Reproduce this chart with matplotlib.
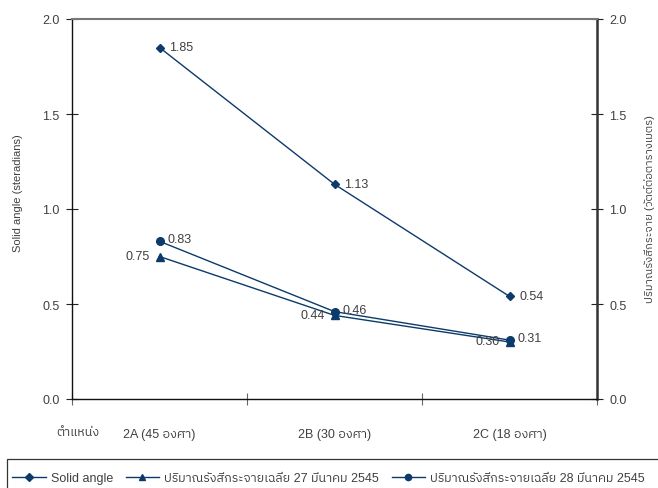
import matplotlib
matplotlib.use("Agg")
import matplotlib.pyplot as plt
from matplotlib import font_manager
from matplotlib.lines import Line2D
from matplotlib.patches import Rectangle

# ---- data ----
positions = ["2A (45 องศา)", "2B (30 องศา)", "2C (18 องศา)"]
solid_angle = [1.85, 1.13, 0.54]
diffuse_27 = [0.75, 0.44, 0.30]
diffuse_28 = [0.83, 0.46, 0.31]
series_names = ["Solid angle",
                "ปริมาณรังสีกระจายเฉลี่ย 27 มีนาคม 2545",
                "ปริมาณรังสีกระจายเฉลี่ย 28 มีนาคม 2545"]
y_ticks = [0.0, 0.5, 1.0, 1.5, 2.0]


def find_thai_family():
    """Return the name of an installed font that has Thai glyphs, if any."""
    try:
        from fontTools.ttLib import TTFont
    except Exception:
        return None
    preferred = []
    others = []
    seen = set()
    for fe in font_manager.fontManager.ttflist:
        if fe.name in seen:
            continue
        try:
            f = TTFont(fe.fname, fontNumber=0, lazy=True)
            cmap = f.getBestCmap() or {}
        except Exception:
            continue
        if 0x0E01 in cmap and 0x0E33 in cmap:
            seen.add(fe.name)
            if "Thai" in fe.name and "Looped" not in fe.name:
                preferred.append(fe.name)
            else:
                others.append(fe.name)
    cands = preferred + others
    return cands[0] if cands else None


thai = find_thai_family()
families = ["Liberation Sans"]
if thai:
    families.append(thai)
families.append("DejaVu Sans")
plt.rcParams["font.family"] = families

NAVY = "#0c3a6a"
TXT = "#404040"
FS = 9

W, H = 658, 489
fig = plt.figure(figsize=(W / 100, H / 100), dpi=100)
ax = fig.add_axes([72 / W, 1 - 400 / H, (597 - 72) / W, (400 - 20) / H])

xs = [0.5, 1.5, 2.5]
ax.plot(xs, solid_angle, color=NAVY, lw=1.0, marker="D", ms=4.5, mfc=NAVY, mec=NAVY, zorder=3)
ax.plot(xs, diffuse_27, color=NAVY, lw=1.0, marker="^", ms=5.5, mfc=NAVY, mec=NAVY, zorder=3)
ax.plot(xs, diffuse_28, color=NAVY, lw=1.0, marker="o", ms=5.5, mfc=NAVY, mec=NAVY, zorder=3)

# value labels
for x, v in zip(xs, solid_angle):
    ax.annotate(f"{v:.2f}", (x, v), xytext=(7, 0.5), textcoords="offset points",
                ha="left", va="center", fontsize=FS, color=TXT)
for x, v in zip(xs, diffuse_28):
    ax.annotate(f"{v:.2f}", (x, v), xytext=(6, 1.5), textcoords="offset points",
                ha="left", va="center", fontsize=FS, color=TXT)
for x, v in zip(xs, diffuse_27):
    ax.annotate(f"{v:.2f}", (x, v), xytext=(-7, 0.5), textcoords="offset points",
                ha="right", va="center", fontsize=FS, color=TXT)

ax.set_xlim(0, 3)
ax.set_ylim(0, 2.0)
ax.set_yticks(y_ticks)
ax.set_yticklabels([f"{t:.1f}" for t in y_ticks])
ax.set_xticks([0, 1, 2, 3])
ax.set_xticklabels([])
ax.set_xticks(xs, minor=True)
ax.set_xticklabels(positions, minor=True)

ax.tick_params(axis="y", which="major", direction="inout", length=8, width=0.8,
               color="#222222", labelsize=FS, labelcolor=TXT, pad=5,
               right=True, labelright=True)
ax.tick_params(axis="x", which="major", direction="inout", length=9, width=0.8,
               color="#666666")
ax.tick_params(axis="x", which="minor", length=0, labelsize=FS, labelcolor=TXT, pad=21)

ax.spines["left"].set_color("#111111")
ax.spines["left"].set_linewidth(1.0)
ax.spines["bottom"].set_color("#111111")
ax.spines["bottom"].set_linewidth(1.0)
ax.spines["right"].set_color("#333333")
ax.spines["right"].set_linewidth(1.8)
ax.spines["top"].set_color("#777777")
ax.spines["top"].set_linewidth(1.5)

fig.text(18 / W, 1 - 193 / H, "Solid angle (steradians)", rotation=90,
         ha="center", va="center", fontsize=8, color=TXT)
fig.text(650 / W, 1 - 209 / H, "ปริมาณรังสีกระจาย (วัตต์ต่อตารางเมตร)", rotation=90,
         ha="center", va="center", fontsize=8, color=TXT)
fig.text(78 / W, 1 - 433 / H, "ตำแหน่ง", ha="center", va="center",
         fontsize=FS, color=TXT)

# legend strip: frame runs past the right and bottom edges of the figure
fig.patches.append(Rectangle((7 / W, -0.05), 1.0, 1 - 460 / H + 0.05,
                             transform=fig.transFigure, fill=False,
                             edgecolor="#333333", linewidth=0.9))
handles = [
    Line2D([], [], color=NAVY, lw=1.0, marker="D", ms=4),
    Line2D([], [], color=NAVY, lw=1.0, marker="^", ms=4.5),
    Line2D([], [], color=NAVY, lw=1.0, marker="o", ms=4.5),
]
leg = fig.legend(handles, series_names, loc="center left",
                 bbox_to_anchor=(12 / W, 1 - 479 / H), ncol=3, frameon=False,
                 fontsize=FS, handlelength=2.7, handletextpad=0.4,
                 columnspacing=1.0, borderpad=0, borderaxespad=0)
for t in leg.get_texts():
    t.set_color(TXT)

fig.savefig("out.png", dpi=100)
